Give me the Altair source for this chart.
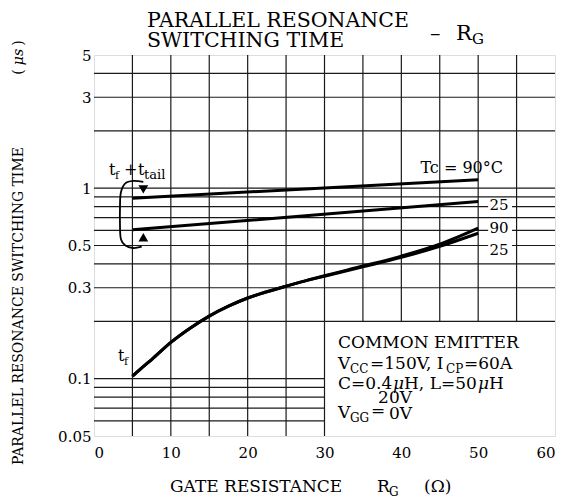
import altair as alt
import pandas as pd

FONT = "DejaVu Serif"

# ---- data ----
tf_x = [5, 6, 7.5, 10, 12.5, 15, 17.5, 20, 22.5, 25, 27.5, 30, 35, 40, 45, 50]
tf_90 = [0.103, 0.112, 0.126, 0.155, 0.184, 0.213, 0.240, 0.265, 0.286, 0.306, 0.326, 0.347, 0.390, 0.440, 0.508, 0.617]
tf_25 = [0.103, 0.112, 0.126, 0.155, 0.184, 0.213, 0.240, 0.265, 0.286, 0.306, 0.326, 0.345, 0.386, 0.433, 0.495, 0.580]
tail_x = [5, 50]
tail_90 = [0.886, 1.106]
tail_25 = [0.604, 0.851]

# grid
vgrid_full = [5, 10, 15, 20, 25, 30]
vgrid_upper = [35, 40, 45, 50, 55]
hgrid_full = [0.2, 0.3, 0.4, 0.5, 0.6, 0.7, 0.8, 0.9, 1, 2, 3, 4]
hgrid_left = [0.06, 0.07, 0.08, 0.09, 0.1]

x_ticks = [0, 10, 20, 30, 40, 50, 60]
y_ticks = [0.05, 0.1, 0.3, 0.5, 1, 3, 5]

# bracket annotation path (data coords)
br_x = [6.42, 5.12, 4.04, 3.52, 3.39, 3.39, 3.52, 4.04, 5.08, 6.21]
br_y = [1.078, 1.091, 1.057, 0.957, 0.836, 0.606, 0.538, 0.501, 0.485, 0.493]

W, H = 461, 381
OX, OY = 94, 55  # page position of plot origin

xs = alt.Scale(domain=[0, 60], nice=False)
ys = alt.Scale(type="log", domain=[0.05, 5], nice=False)

vg = pd.DataFrame({
    "x": vgrid_full + vgrid_upper,
    "y1": [0.05] * len(vgrid_full) + [0.2] * len(vgrid_upper),
    "y2": [5] * (len(vgrid_full) + len(vgrid_upper)),
})
hg = pd.DataFrame({
    "y": hgrid_full + hgrid_left,
    "x1": [0] * (len(hgrid_full) + len(hgrid_left)),
    "x2": [60] * len(hgrid_full) + [30] * len(hgrid_left),
})

vrules = alt.Chart(vg).mark_rule(color="#1a1a1a", strokeWidth=1.2).encode(
    x=alt.X("x:Q", scale=xs, axis=alt.Axis(values=x_ticks, format="d", title=None, grid=False,
                                             ticks=False, domain=False, labelFont=FONT, labelFontSize=15,
                                             labelColor="black", labelPadding=9)),
    y=alt.Y("y1:Q", scale=ys, axis=alt.Axis(values=y_ticks, format="~g", title=None, grid=False,
                                              ticks=False, domain=False, labelFont=FONT, labelFontSize=15,
                                              labelColor="black", labelPadding=3)),
    y2="y2:Q",
)
hrules = alt.Chart(hg).mark_rule(color="#1a1a1a", strokeWidth=1.2).encode(
    x=alt.X("x1:Q", scale=xs), x2="x2:Q", y=alt.Y("y:Q", scale=ys)
)

curves = pd.DataFrame({
    "x": tf_x + tf_x + tail_x + tail_x,
    "y": tf_90 + tf_25 + tail_90 + tail_25,
    "s": ["tf90"] * len(tf_x) + ["tf25"] * len(tf_x) + ["t90"] * 2 + ["t25"] * 2,
})
lines = alt.Chart(curves).mark_line(color="black", strokeWidth=3, interpolate="monotone").encode(
    x=alt.X("x:Q", scale=xs), y=alt.Y("y:Q", scale=ys), detail="s:N"
)

brk = pd.DataFrame({"x": br_x, "y": br_y, "o": list(range(len(br_x)))})
bracket = alt.Chart(brk).mark_line(color="black", strokeWidth=1.8, interpolate="cardinal").encode(
    x=alt.X("x:Q", scale=xs), y=alt.Y("y:Q", scale=ys), order="o:Q"
)
arr = pd.DataFrame({"x": [6.42, 6.42], "y": [0.985, 0.552], "sh": ["triangle-down", "triangle-up"]})
arrows = alt.Chart(arr).mark_point(filled=True, color="black", size=95, opacity=1).encode(
    x=alt.X("x:Q", scale=xs), y=alt.Y("y:Q", scale=ys),
    shape=alt.Shape("sh:N", scale=None, legend=None)
)

# white backgrounds behind right-side labels
wb = pd.DataFrame({"x1": [51.3, 51.3, 51.3], "x2": [54.4, 54.4, 54.4],
                   "y1": [0.775, 0.595, 0.455], "y2": [0.865, 0.66, 0.505]})
whites = alt.Chart(wb).mark_rect(color="white").encode(
    x=alt.X("x1:Q", scale=xs), x2="x2:Q", y=alt.Y("y1:Q", scale=ys), y2="y2:Q"
)

one = pd.DataFrame({"a": [0]})


def txt(s, px, py, size=15, align="left", angle=0, style="normal", baseline="alphabetic"):
    return alt.Chart(one).mark_text(
        text=s, align=align, baseline=baseline, fontSize=size, font=FONT,
        angle=angle, fontStyle=style, color="black"
    ).encode(x=alt.value(px - OX), y=alt.value(py - OY))


texts = [
    # title
    txt("PARALLEL RESONANCE", 147, 27, size=20.5),
    txt("SWITCHING TIME", 147, 47, size=20.5),
    txt("–", 430, 40, size=21),
    txt("R", 456, 40, size=21),
    txt("G", 472, 44, size=15),
    # y axis title
    txt("PARALLEL RESONANCE SWITCHING TIME", 23, 306, size=14, align="center", angle=270),
    txt("(", 23, 72, size=14, align="center", angle=270),
    txt("μs", 23, 57, size=14, align="center", angle=270, style="italic"),
    txt(")", 23, 43, size=14, align="center", angle=270),
    # x axis title
    txt("GATE RESISTANCE", 170, 492, size=17),
    txt("R", 377, 492, size=17),
    txt("G", 389, 496, size=12),
    txt("(Ω)", 424, 492, size=17),
    # curve labels
    txt("Tc = 90°C", 503, 173, size=16, align="right"),
    txt("25", 499, 210, size=15, align="center"),
    txt("90", 499, 233, size=15, align="center"),
    txt("25", 499, 255, size=15, align="center"),
    txt("t", 109, 175, size=16),
    txt("f", 115, 179, size=11),
    txt("+", 124, 175, size=16),
    txt("t", 138, 175, size=16),
    txt("tail", 144, 179, size=13),
    txt("t", 118, 361, size=16),
    txt("f", 124, 365, size=11),
    # conditions box
    txt("COMMON EMITTER", 338, 348, size=17),
    txt("V", 338, 369, size=17),
    txt("CC", 350, 373, size=12),
    txt("=150V, I", 370, 369, size=17),
    txt("CP", 446, 373, size=12),
    txt("=60A", 464, 369, size=17),
    txt("C=0.4", 338, 389, size=17),
    txt("μ", 393, 389, size=17, style="italic"),
    txt("H, L=50", 404, 389, size=17),
    txt("μ", 478, 389, size=17, style="italic"),
    txt("H", 489, 389, size=17),
    txt("20V", 412, 403, size=17, align="right"),
    txt("V", 338, 418, size=17),
    txt("GG", 350, 422, size=12),
    txt("=", 371, 416, size=17),
    txt("0V", 412, 419, size=17, align="right"),
]

chart = alt.layer(vrules, hrules, whites, lines, bracket, arrows, *texts).properties(
    width=W, height=H,
    autosize=alt.AutoSizeParams(type="none"),
    padding={"left": OX - 8, "top": OY - 8, "right": 8, "bottom": 495 - (OY - 8) - H},
).configure_view(stroke="black", strokeWidth=2.8).configure(background="white")

chart.save("out.html", embed_options={"renderer": "svg", "actions": False})
